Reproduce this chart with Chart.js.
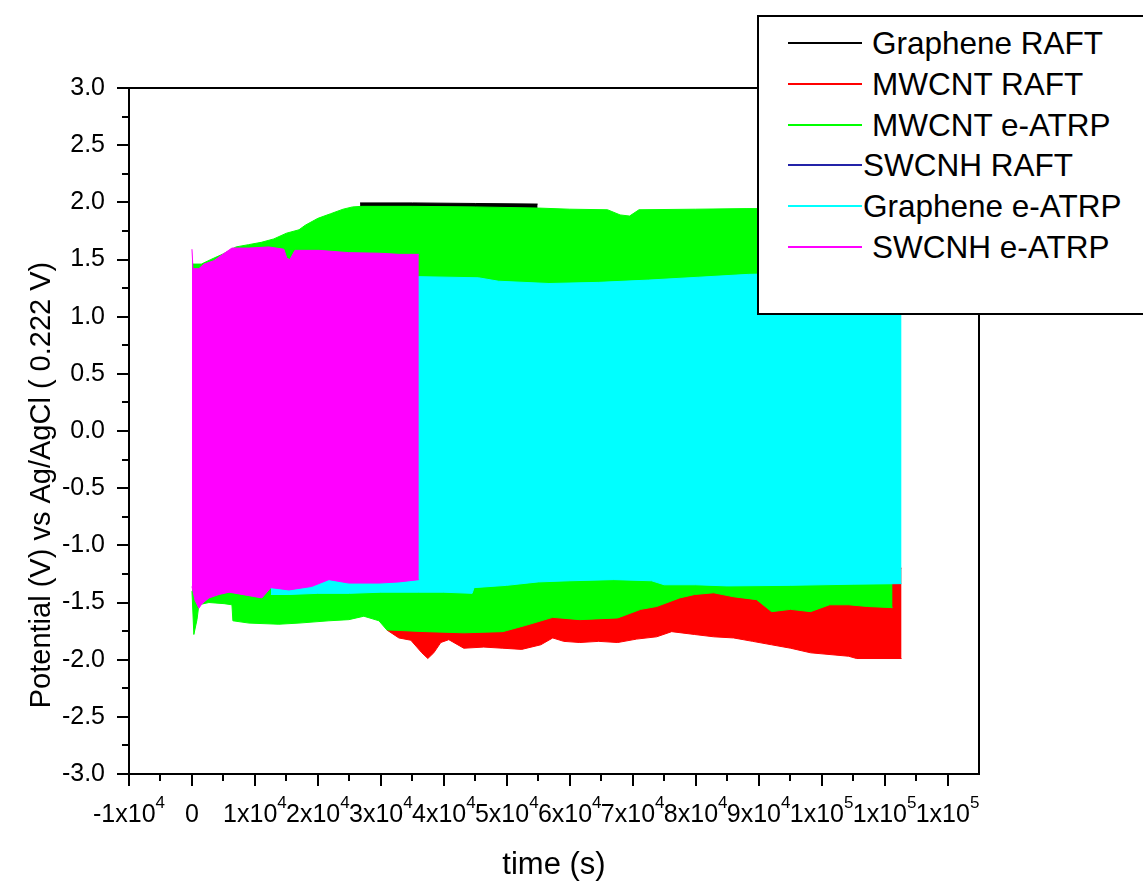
<!DOCTYPE html>
<html>
<head>
<meta charset="utf-8">
<script src="https://cdn.jsdelivr.net/npm/chart.js@4.4.1/dist/chart.umd.min.js"></script>
<style>
html,body{margin:0;padding:0;background:#fff;overflow:hidden;width:1143px;height:884px;}
#wrap{position:relative;width:1143px;height:884px;overflow:hidden;}
canvas{display:block;}
#legend{position:absolute;left:757px;top:15px;width:430px;height:296px;border:2px solid #000;background:#fff;
  font-family:"Liberation Sans",Arial,sans-serif;font-size:31.5px;color:#000;}
.sw{position:absolute;left:29px;width:74px;height:2px;}
.lab{position:absolute;white-space:nowrap;line-height:31px;height:31px;}
</style>
</head>
<body>
<div id="wrap">
<canvas id="c" width="1143" height="884" style="width:1143px;height:884px"></canvas>
<div id="legend"></div>
</div>
<script>
// ---------- tick labels ----------
const xTickValues = [-10000, 0, 10000, 20000, 30000, 40000, 50000, 60000, 70000, 80000, 90000, 100000, 110000, 120000];
const xTickBase   = ['-1x10', '0', '1x10', '2x10', '3x10', '4x10', '5x10', '6x10', '7x10', '8x10', '9x10', '1x10', '1x10', '1x10'];
const xTickExp    = ['4', '', '4', '4', '4', '4', '4', '4', '4', '4', '4', '5', '5', '5'];
const xMinorValues = [-5000, 5000, 15000, 25000, 35000, 45000, 55000, 65000, 75000, 85000, 95000, 105000, 115000];
const yTickValues = [-3, -2.5, -2, -1.5, -1, -0.5, 0, 0.5, 1, 1.5, 2, 2.5, 3];
const yTickLabels = ['-3.0', '-2.5', '-2.0', '-1.5', '-1.0', '-0.5', '0.0', '0.5', '1.0', '1.5', '2.0', '2.5', '3.0'];
const yMinorValues = [-2.75, -2.25, -1.75, -1.25, -0.75, -0.25, 0.25, 0.75, 1.25, 1.75, 2.25, 2.75];

const xTitle = 'time (s)';
const yTitle = 'Potential (V) vs Ag/AgCl ( 0.222 V)';

// ---------- series envelopes (time in s, potential in V) ----------
// Graphene RAFT (black)
const blkUpT = [26700, 35000, 45000, 54900];
const blkUpV = [1.995, 1.995, 1.99, 1.985];
const blkLoT = [26700, 54900];
const blkLoV = [-1.5, -1.5];

// MWCNT RAFT (red)
const redUpT = [30950, 112700];
const redUpV = [-1.2, -1.2];
const redLoT = [30950, 32860, 34760, 36510, 37460, 38410, 39520, 40790, 43170, 46350, 49370, 52380, 55400, 57300, 59050, 61590, 64600, 67620, 70630, 73810, 76190, 79840, 82860, 86030, 89050, 92060, 95080, 98250, 104290, 105560, 112700];
const redLoV = [-1.74, -1.81, -1.83, -1.94, -1.99, -1.94, -1.85, -1.825, -1.90, -1.89, -1.90, -1.91, -1.87, -1.81, -1.84, -1.85, -1.84, -1.85, -1.82, -1.80, -1.755, -1.78, -1.80, -1.81, -1.84, -1.87, -1.90, -1.94, -1.97, -1.99, -1.99];

// MWCNT e-ATRP (green)
const grnUpT = [0, 1500, 3000, 5000, 7000, 9000, 11000, 13000, 15000, 17000, 18000, 20000, 22000, 24000, 25500, 27000, 35000, 45000, 55000, 60000, 66000, 68000, 69500, 71000, 80000, 88000, 100000, 111270];
const grnUpV = [1.46, 1.46, 1.50, 1.55, 1.61, 1.63, 1.65, 1.68, 1.73, 1.76, 1.80, 1.86, 1.90, 1.94, 1.96, 1.965, 1.965, 1.96, 1.95, 1.94, 1.935, 1.89, 1.88, 1.935, 1.94, 1.945, 1.945, 1.945];
const grnLoT = [0, 300, 800, 1100, 2700, 5100, 6350, 6500, 9050, 13800, 17000, 21750, 24920, 27300, 29700, 30950, 37140, 43170, 49370, 53020, 57300, 61590, 67620, 71270, 73810, 77460, 79840, 82860, 86030, 89680, 92060, 95080, 98250, 101270, 104290, 107300, 111270];
const grnLoV = [-1.40, -1.78, -1.65, -1.52, -1.50, -1.51, -1.52, -1.66, -1.68, -1.69, -1.68, -1.66, -1.65, -1.62, -1.66, -1.74, -1.755, -1.765, -1.755, -1.70, -1.63, -1.65, -1.635, -1.56, -1.535, -1.46, -1.43, -1.415, -1.45, -1.475, -1.58, -1.56, -1.58, -1.52, -1.52, -1.535, -1.545];

// SWCNH RAFT (blue) - hidden beneath the other traces
const bluUpT = [500, 30000];
const bluUpV = [1.30, 1.35];
const bluLoT = [500, 30000];
const bluLoV = [-1.25, -1.25];

// Graphene e-ATRP (cyan)
const cyaUpT = [12540, 36030, 45500, 48700, 56700, 64600, 72500, 80500, 88400, 96400, 112700];
const cyaUpV = [1.30, 1.35, 1.34, 1.31, 1.29, 1.30, 1.32, 1.345, 1.37, 1.38, 1.38];
const cyaLoT = [12540, 15400, 20000, 25000, 30000, 36030, 40000, 44500, 44800, 50000, 55000, 60000, 67000, 73000, 75000, 80000, 85000, 95000, 105000, 112700];
const cyaLoV = [-1.43, -1.43, -1.42, -1.42, -1.41, -1.41, -1.41, -1.42, -1.37, -1.35, -1.32, -1.31, -1.30, -1.31, -1.345, -1.345, -1.355, -1.35, -1.34, -1.335];

// SWCNH e-ATRP (magenta)
const magUpT = [0, 160, 1100, 1900, 3500, 4760, 6350, 9050, 12200, 14600, 15080, 15560, 16350, 20200, 24900, 29700, 32900, 36030];
const magUpV = [1.59, 1.42, 1.42, 1.46, 1.49, 1.54, 1.60, 1.60, 1.61, 1.59, 1.51, 1.50, 1.58, 1.58, 1.56, 1.555, 1.545, 1.545];
const magLoT = [0, 480, 1100, 1600, 2700, 4300, 5900, 9050, 11100, 12540, 15400, 19000, 21750, 24900, 29700, 32900, 36030];
const magLoV = [-1.36, -1.48, -1.55, -1.51, -1.46, -1.43, -1.41, -1.44, -1.46, -1.37, -1.39, -1.36, -1.30, -1.33, -1.33, -1.32, -1.30];

const seriesNames  = ['Graphene RAFT', 'MWCNT RAFT', 'MWCNT e-ATRP', 'SWCNH RAFT', 'Graphene e-ATRP', 'SWCNH e-ATRP'];
const seriesColors = ['#000000', '#ff0000', '#00ff00', '#2323a8', '#00ffff', '#ff00ff'];

// ---------- build ----------
const FF = '"Liberation Sans", Arial, sans-serif';
function pts(ts, vs) { return ts.map((t, i) => ({x: t, y: vs[i]})); }

const envelopes = [
  [blkUpT, blkUpV, blkLoT, blkLoV],
  [redUpT, redUpV, redLoT, redLoV],
  [grnUpT, grnUpV, grnLoT, grnLoV],
  [bluUpT, bluUpV, bluLoT, bluLoV],
  [cyaUpT, cyaUpV, cyaLoT, cyaLoV],
  [magUpT, magUpV, magLoT, magLoV]
];

const datasets = [];
envelopes.forEach((e, k) => {
  const col = seriesColors[k];
  const ord = envelopes.length - 1 - k; // later series on top
  datasets.push({label: seriesNames[k], data: pts(e[0], e[1]), borderColor: col, backgroundColor: col,
    borderWidth: 1, pointRadius: 0, tension: 0, fill: '+1', order: ord});
  datasets.push({label: seriesNames[k] + ' (low)', data: pts(e[2], e[3]), borderColor: col, backgroundColor: col,
    borderWidth: 1, pointRadius: 0, tension: 0, fill: false, order: ord});
});

const frame = {
  id: 'frame',
  afterDraw(chart) {
    const {ctx, chartArea: a, scales: {x, y}} = chart;
    ctx.save();
    ctx.strokeStyle = '#000';
    ctx.lineWidth = 2;
    ctx.beginPath();
    ctx.rect(a.left, a.top, a.right - a.left, a.bottom - a.top);
    ctx.stroke();
    ctx.beginPath();
    xTickValues.forEach(v => { const p = Math.round(x.getPixelForValue(v)); ctx.moveTo(p, a.bottom); ctx.lineTo(p, a.bottom + 12); });
    xMinorValues.forEach(v => { const p = Math.round(x.getPixelForValue(v)); ctx.moveTo(p, a.bottom); ctx.lineTo(p, a.bottom + 7); });
    yTickValues.forEach(v => { const p = Math.round(y.getPixelForValue(v)); ctx.moveTo(a.left, p); ctx.lineTo(a.left - 12, p); });
    yMinorValues.forEach(v => { const p = Math.round(y.getPixelForValue(v)); ctx.moveTo(a.left, p); ctx.lineTo(a.left - 7, p); });
    ctx.stroke();
    // x tick labels with superscript exponents
    ctx.fillStyle = '#000';
    ctx.textBaseline = 'alphabetic';
    ctx.textAlign = 'left';
    xTickValues.forEach((v, i) => {
      ctx.font = '25px ' + FF;
      const wb = ctx.measureText(xTickBase[i]).width;
      ctx.font = '17px ' + FF;
      const we = xTickExp[i] ? ctx.measureText(xTickExp[i]).width : 0;
      const left = x.getPixelForValue(v) - (wb + we) / 2;
      ctx.font = '25px ' + FF;
      ctx.fillText(xTickBase[i], left, a.bottom + 48);
      if (xTickExp[i]) { ctx.font = '17px ' + FF; ctx.fillText(xTickExp[i], left + wb, a.bottom + 34); }
    });
    // y axis title
    ctx.translate(50, 485);
    ctx.rotate(-Math.PI / 2);
    ctx.font = '29px ' + FF;
    ctx.textAlign = 'center';
    ctx.fillText(yTitle, 0, 0);
    ctx.restore();
  }
};

new Chart(document.getElementById('c'), {
  type: 'line',
  data: {datasets},
  options: {
    responsive: false,
    devicePixelRatio: 1,
    animation: false,
    layout: {padding: {top: 88, right: 164, bottom: 0, left: 0}},
    plugins: {legend: {display: false}, tooltip: {enabled: false}},
    elements: {line: {borderJoinStyle: 'miter'}},
    scales: {
      x: {
        type: 'linear', min: -10000, max: 125000,
        afterBuildTicks: s => { s.ticks = xTickValues.map(v => ({value: v})); },
        afterFit: s => { s.height = 110; },
        ticks: {display: false},
        grid: {display: false, drawTicks: false},
        border: {display: false},
        title: {display: true, text: xTitle, color: '#000', font: {family: FF, size: 31}, padding: 0}
      },
      y: {
        type: 'linear', min: -3, max: 3,
        afterBuildTicks: s => { s.ticks = yTickValues.map(v => ({value: v})); },
        afterFit: s => { s.width = 129; },
        ticks: {
          callback: v => yTickLabels[yTickValues.indexOf(v)],
          color: '#000', font: {family: FF, size: 25}, padding: 24
        },
        grid: {display: false, drawTicks: false},
        border: {display: false}
      }
    }
  },
  plugins: [frame]
});

// ---------- legend (HTML text) ----------
const legendRowY = [26, 67, 108, 148, 189, 230];
const legendTextX = [113, 113, 113, 104, 104, 113];
const lg = document.getElementById('legend');
seriesNames.forEach((n, i) => {
  const sw = document.createElement('div');
  sw.className = 'sw';
  sw.style.top = (legendRowY[i] - 1) + 'px';
  sw.style.background = seriesColors[i];
  lg.appendChild(sw);
  const t = document.createElement('div');
  t.className = 'lab';
  t.style.left = legendTextX[i] + 'px';
  t.style.top = (legendRowY[i] - 15) + 'px';
  t.textContent = n;
  lg.appendChild(t);
});
</script>
</body>
</html>
